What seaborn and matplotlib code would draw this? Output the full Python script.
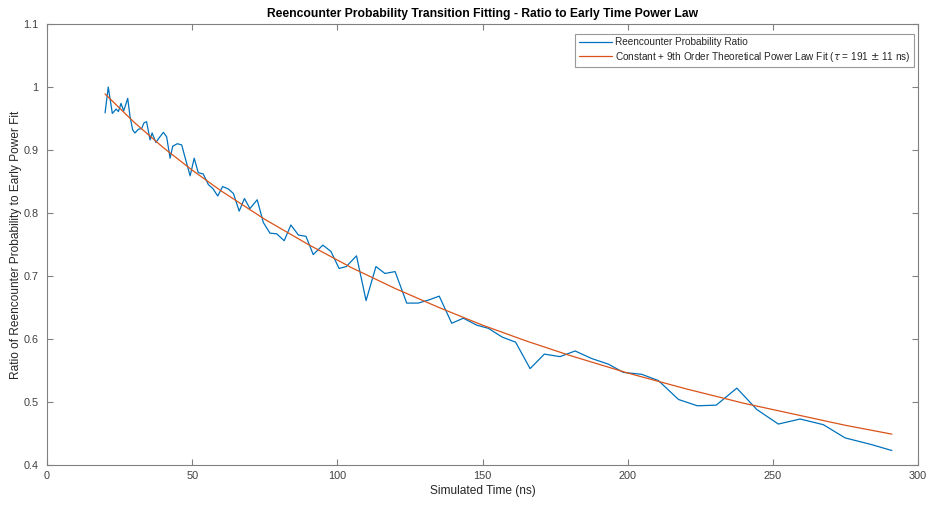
import numpy as np
import pandas as pd
import matplotlib
matplotlib.use("Agg")
import matplotlib.pyplot as plt
import seaborn as sns
from matplotlib.ticker import FuncFormatter

# ---- data ----
time_ns = [20.0, 21.1, 22.5, 23.8, 24.6, 25.5, 26.4, 27.8, 28.6, 29.5, 30.3, 31.5,
           32.6, 33.4, 34.3, 35.5, 36.2, 37.5, 38.9, 40.1, 41.2, 42.4, 43.3, 44.9,
           46.4, 47.5, 49.3, 50.7, 52.1, 53.8, 55.6, 57.1, 58.8, 60.5, 62.5, 64.2,
           66.2, 68.0, 69.9, 72.4, 74.5, 76.8, 79.1, 81.7, 84.0, 86.6, 89.2, 91.7,
           95.0, 97.8, 100.6, 103.1, 106.6, 109.9, 113.3, 116.4, 119.9, 123.9,
           127.9, 131.5, 135.1, 139.4, 143.4, 148.0, 152.0, 156.8, 161.4, 166.4,
           171.3, 176.7, 181.9, 187.6, 193.4, 198.5, 204.8, 210.6, 217.5, 224.0,
           230.5, 237.6, 244.5, 251.9, 259.4, 267.4, 274.9, 283.5, 291.0]
ratio = [0.959, 1.000, 0.958, 0.965, 0.961, 0.974, 0.962, 0.982, 0.953, 0.932, 0.927, 0.933,
         0.934, 0.943, 0.945, 0.916, 0.927, 0.912, 0.921, 0.928, 0.921, 0.887, 0.906, 0.910,
         0.908, 0.889, 0.859, 0.887, 0.864, 0.862, 0.845, 0.839, 0.827, 0.842, 0.838, 0.831,
         0.803, 0.823, 0.807, 0.821, 0.785, 0.768, 0.767, 0.756, 0.781, 0.765, 0.763, 0.734,
         0.749, 0.739, 0.712, 0.715, 0.732, 0.661, 0.715, 0.704, 0.707, 0.657,
         0.657, 0.662, 0.668, 0.625, 0.633, 0.622, 0.617, 0.603, 0.595, 0.553,
         0.576, 0.572, 0.581, 0.569, 0.560, 0.547, 0.544, 0.534, 0.504, 0.494,
         0.495, 0.522, 0.488, 0.465, 0.473, 0.464, 0.443, 0.433, 0.423]

fit_time = [20, 30, 40, 50, 60, 75, 90, 105, 120, 135, 150, 165, 180, 200, 220, 240, 260, 275, 291]
fit_ratio = [0.989, 0.944, 0.904, 0.868, 0.835, 0.790, 0.750, 0.713, 0.680, 0.650, 0.622,
             0.597, 0.574, 0.546, 0.521, 0.498, 0.478, 0.463, 0.449]

x_ticks = [0, 50, 100, 150, 200, 250, 300]
y_ticks = [0.4, 0.5, 0.6, 0.7, 0.8, 0.9, 1.0, 1.1]

label_data = "Reencounter Probability Ratio"
label_fit = r"Constant + 9th Order Theoretical Power Law Fit ($\tau$ = 191 $\pm$ 11 ns)"

sns.set_style("white")
plt.rcParams['font.family'] = ['Liberation Sans', 'DejaVu Sans']
plt.rcParams['mathtext.fontset'] = 'dejavusans'

df_data = pd.DataFrame({"t": time_ns, "r": ratio})
df_fit = pd.DataFrame({"t": fit_time, "r": fit_ratio})

fig = plt.figure(figsize=(9.36, 5.05), dpi=100, facecolor='white')
ax = fig.add_axes([47/936, 1 - 465/505, (918-47)/936, (465-24)/505])

sns.lineplot(data=df_data, x="t", y="r", ax=ax, color='#0072BD', lw=0.9,
             label=label_data, estimator=None, sort=False)
sns.lineplot(data=df_fit, x="t", y="r", ax=ax, color='#D95319', lw=0.9,
             label=label_fit, estimator=None, sort=False)

ax.set_xlim(0, 300)
ax.set_ylim(0.4, 1.1)
ax.set_xticks(x_ticks)
ax.set_yticks(y_ticks)
ax.yaxis.set_major_formatter(FuncFormatter(lambda v, p: f"{v:g}"))

edge = '#808080'
for s in ax.spines.values():
    s.set_visible(True)
    s.set_color(edge)
    s.set_linewidth(0.8)
ax.tick_params(direction='in', length=4.5, width=0.8, color=edge, labelcolor='#404040',
               labelsize=7.8, top=True, right=True, bottom=True, left=True)
ax.tick_params(axis='y', pad=6)
ax.tick_params(axis='x', pad=4)

ax.set_xlabel("Simulated Time (ns)", fontsize=8.6, color='#262626', labelpad=3)
ax.set_ylabel("Ratio of Reencounter Probability to Early Power Fit", fontsize=8.6,
              color='#262626')
ax.yaxis.set_label_coords((22 - 47) / 871, 0.5)
ax.set_title("Reencounter Probability Transition Fitting - Ratio to Early Time Power Law",
             fontsize=8.7, fontweight='bold', color='black', pad=5)

leg = ax.legend(loc='upper right', fontsize=7.2, frameon=True, fancybox=False,
                bbox_to_anchor=(914/936, 1 - 33.5/505), bbox_transform=fig.transFigure,
                borderaxespad=0, handlelength=3.3, borderpad=0.35, labelspacing=0.25,
                handletextpad=0.35)
leg.get_frame().set_edgecolor('#808080')
leg.get_frame().set_linewidth(0.8)
for t in leg.get_texts():
    t.set_color('#262626')

fig.savefig("out.png", dpi=100, facecolor='white')
